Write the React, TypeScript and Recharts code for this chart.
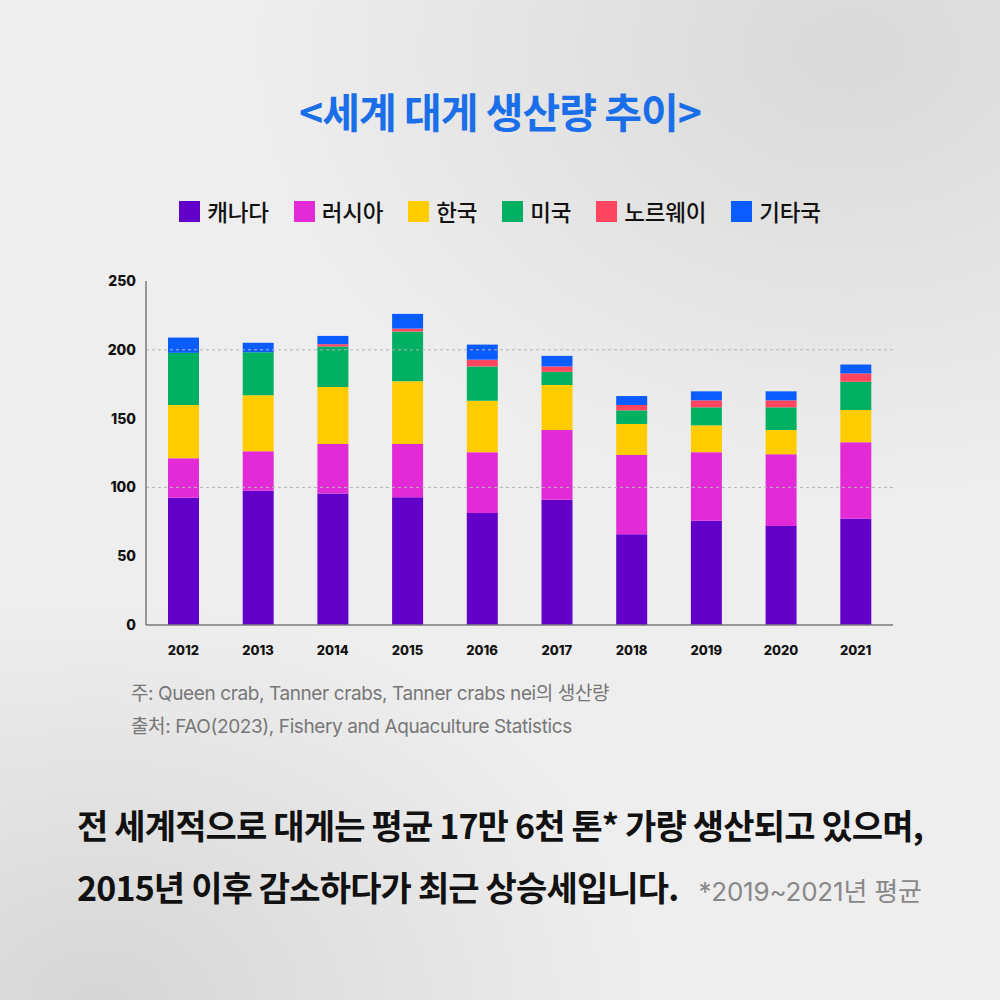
import React from "react";
import { Bar, BarChart, ReferenceLine, XAxis, YAxis } from "recharts";

// 세계 대게 생산량 (천 톤)
const years = ["2012", "2013", "2014", "2015", "2016", "2017", "2018", "2019", "2020", "2021"];
const canada = [92.5, 97.5, 95.6, 92.8, 81.4, 91.0, 65.9, 75.8, 72.0, 77.3];
const russia = [28.7, 28.8, 36.0, 38.8, 44.2, 50.7, 57.7, 49.8, 52.1, 55.5];
const korea = [38.7, 40.6, 41.3, 45.6, 37.4, 32.7, 22.5, 19.5, 17.6, 23.4];
const usa = [37.9, 31.4, 29.5, 36.1, 24.9, 9.6, 9.9, 13.1, 16.5, 20.6];
const norway = [0, 0, 1.7, 2.1, 4.9, 3.9, 3.9, 5.1, 5.1, 6.0];
const others = [11.1, 6.8, 6.0, 10.7, 11.0, 7.7, 6.5, 6.5, 6.5, 6.5];

const yTicks = [0, 50, 100, 150, 200, 250];
const gridValues = [100, 200];

const series = [
  { key: "canada", name: "캐나다", color: "#6200c9", values: canada },
  { key: "russia", name: "러시아", color: "#e22bd6", values: russia },
  { key: "korea", name: "한국", color: "#ffcc00", values: korea },
  { key: "usa", name: "미국", color: "#00b062", values: usa },
  { key: "norway", name: "노르웨이", color: "#ff4560", values: norway },
  { key: "others", name: "기타국", color: "#0a5cff", values: others },
];

const chartData = years.map((year, i) => {
  const row: Record<string, string | number> = { year };
  series.forEach((s) => {
    row[s.key] = s.values[i];
  });
  return row;
});

const krFont = '"Noto Sans CJK KR", "Noto Sans", sans-serif';
const mixFont = 'Inter, "Noto Sans CJK KR", sans-serif';
const numFont = 'Inter, "Liberation Sans", sans-serif';

export default function App(): JSX.Element {
  return (
    <div
      style={{
        position: "absolute",
        top: 0,
        left: 0,
        width: 1000,
        height: 1000,
        overflow: "hidden",
        fontFamily: krFont,
        background:
          "radial-gradient(ellipse 60% 45% at 85% 5%, #d9d9d9 0%, rgba(217,217,217,0) 100%), radial-gradient(ellipse 55% 40% at 10% 100%, #d6d6d6 0%, rgba(214,214,214,0) 100%), #efeeee",
      }}
    >
      {/* title */}
      <div
        style={{
          position: "absolute",
          top: 80,
          left: 0,
          width: 1000,
          textAlign: "center",
          fontSize: 41,
          fontWeight: 700,
          letterSpacing: -1,
          color: "#1a6fe8",
        }}
      >
        {"<세계 대게 생산량 추이>"}
      </div>

      {/* legend */}
      <div
        style={{
          position: "absolute",
          top: 195,
          left: 0,
          width: 1000,
          display: "flex",
          justifyContent: "center",
          alignItems: "center",
          gap: 25,
          fontSize: 22.5,
          fontWeight: 500,
          color: "#111",
        }}
      >
        {series.map((s) => (
          <div key={s.key} style={{ display: "flex", alignItems: "center", gap: 7 }}>
            <span style={{ width: 21, height: 21, background: s.color, display: "inline-block" }} />
            <span style={{ letterSpacing: -0.2 }}>{s.name}</span>
          </div>
        ))}
      </div>

      {/* chart */}
      <div style={{ position: "absolute", top: 260, left: 0 }}>
        <BarChart
          width={1000}
          height={420}
          data={chartData}
          margin={{ top: 21, right: 107, left: 100, bottom: 25 }}
          barSize={31}
        >
          <XAxis
            dataKey="year"
            axisLine={{ stroke: "#7a7a7a", strokeWidth: 1.5 }}
            tickLine={false}
            tickMargin={15}
            height={30}
            tick={{ fontSize: 13, fontWeight: 800, fill: "#111", fontFamily: numFont }}
          />
          <YAxis
            domain={[0, 250]}
            ticks={yTicks}
            width={46}
            axisLine={{ stroke: "#7a7a7a", strokeWidth: 1.5 }}
            tickLine={false}
            tickMargin={4}
            tick={{ fontSize: 14, fontWeight: 800, fill: "#111", fontFamily: numFont }}
          />
          {gridValues.map((v) => (
            <ReferenceLine key={v} y={v} stroke="#b5b5b5" strokeDasharray="3 3" />
          ))}
          {series.map((s) => (
            <Bar
              key={s.key}
              dataKey={s.key}
              name={s.name}
              stackId="a"
              fill={s.color}
              isAnimationActive={false}
            />
          ))}
        </BarChart>
      </div>

      {/* notes */}
      <div
        style={{
          position: "absolute",
          top: 677,
          left: 131,
          fontSize: 19,
          lineHeight: "33px",
          color: "#777",
          fontFamily: mixFont,
          letterSpacing: -0.4,
        }}
      >
        <div>주: Queen crab, Tanner crabs, Tanner crabs nei의 생산량</div>
        <div>출처: FAO(2023), Fishery and Aquaculture Statistics</div>
      </div>

      {/* summary */}
      <div
        style={{
          position: "absolute",
          top: 794,
          left: 77,
          fontSize: 34,
          fontWeight: 700,
          letterSpacing: -0.85,
          lineHeight: "62px",
          color: "#111",
          whiteSpace: "nowrap",
        }}
      >
        <div>전 세계적으로 대게는 평균 17만 6천 톤* 가량 생산되고 있으며,</div>
        <div>
          2015년 이후 감소하다가 최근 상승세입니다.
          <span
            style={{
              fontSize: 26,
              fontWeight: 400,
              color: "#888",
              fontFamily: mixFont,
              letterSpacing: -0.2,
              marginLeft: 20,
            }}
          >
            *2019~2021년 평균
          </span>
        </div>
      </div>
    </div>
  );
}
